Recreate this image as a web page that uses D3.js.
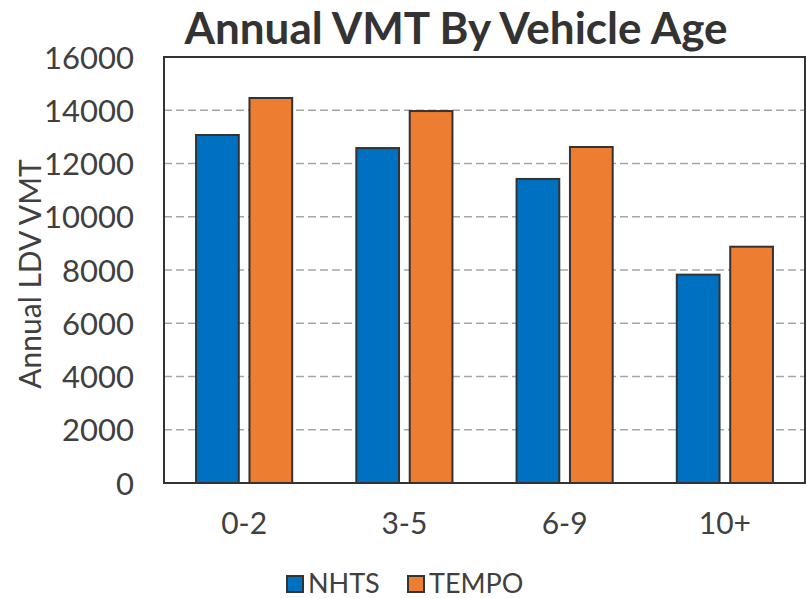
<!DOCTYPE html>
<html><head><meta charset="utf-8">
<script src="https://cdn.jsdelivr.net/npm/d3@7"></script>
<style>body{margin:0;background:#fff}svg{display:block}</style>
</head><body>
<script>
const categories = ["0-2","3-5","6-9","10+"];
const seriesNames = ["NHTS","TEMPO"];
const nhts = [13070, 12580, 11420, 7825];
const tempo = [14460, 13970, 12620, 8875];
const yTicks = [0,2000,4000,6000,8000,10000,12000,14000,16000];
const colors = ["#0070C0","#ED7D31"];
const values = [nhts, tempo];

const W=806,H=598;
const font = "Lato, 'Open Sans', sans-serif";
const txt = "#404040";
const svg = d3.select("body").append("svg").attr("width",W).attr("height",H);
const m = {l:164, r:805, t:57, b:483};
const x = d3.scaleBand().domain(categories).range([m.l,m.r]);
const y = d3.scaleLinear().domain([0,16000]).range([m.b,m.t]);
const x1 = d3.scaleBand().domain(seriesNames).range([0,x.bandwidth()]).paddingInner(0.2).paddingOuter(0.6);

// gridlines
svg.append("g").selectAll("line").data(yTicks.filter(d=>d>0 && d<16000)).join("line")
  .attr("x1",m.l).attr("x2",m.r).attr("y1",d=>y(d)).attr("y2",d=>y(d))
  .attr("stroke","#A6A6A6").attr("stroke-width",1.5).attr("stroke-dasharray","8,4");

// bars
const g = svg.append("g").selectAll("g").data(categories).join("g")
  .attr("transform",d=>`translate(${x(d)},0)`);
g.selectAll("rect").data((d,i)=>seriesNames.map((s,j)=>({s,v:values[j][i],c:colors[j]}))).join("rect")
  .attr("x",d=>x1(d.s)).attr("width",x1.bandwidth())
  .attr("y",d=>y(d.v)).attr("height",d=>y(0)-y(d.v))
  .attr("fill",d=>d.c).attr("stroke","#333").attr("stroke-width",2);

// frame
svg.append("rect").attr("x",m.l).attr("y",m.t).attr("width",m.r-m.l).attr("height",m.b-m.t)
  .attr("fill","none").attr("stroke","#333").attr("stroke-width",2);

// y axis
const ya = svg.append("g").attr("transform",`translate(${m.l},0)`)
  .call(d3.axisLeft(y).tickValues(yTicks).tickSize(0).tickPadding(30).tickFormat(d3.format("d")));
ya.select(".domain").remove();
ya.selectAll("text").attr("font-family",font).attr("font-size",31).attr("fill",txt).attr("dy","0.36em");

// x axis
const xa = svg.append("g").attr("transform",`translate(0,${m.b})`)
  .call(d3.axisBottom(x).tickSize(0).tickPadding(30));
xa.select(".domain").remove();
xa.selectAll("text").attr("font-family",font).attr("font-size",30).attr("fill",txt);

// title
svg.append("text").attr("x",456).attr("y",44).attr("text-anchor","middle")
  .attr("font-family",font).attr("font-weight","bold").attr("font-size",44).attr("fill","#333")
  .text("Annual VMT By Vehicle Age");

// y title
svg.append("text").attr("transform","translate(41,274) rotate(-90)").attr("text-anchor","middle")
  .attr("font-family",font).attr("font-size",30).attr("fill",txt).text("Annual LDV VMT");

// legend
const leg = svg.append("g");
const lx = [287, 408];
seriesNames.forEach((s,i)=>{
  leg.append("rect").attr("x",lx[i]).attr("y",576).attr("width",16).attr("height",16)
    .attr("fill",colors[i]).attr("stroke","#333").attr("stroke-width",2);
  leg.append("text").attr("x",lx[i]+21).attr("y",593).attr("font-family",font).attr("font-size",27)
    .attr("fill",txt).text(s);
});
</script>
</body></html>
